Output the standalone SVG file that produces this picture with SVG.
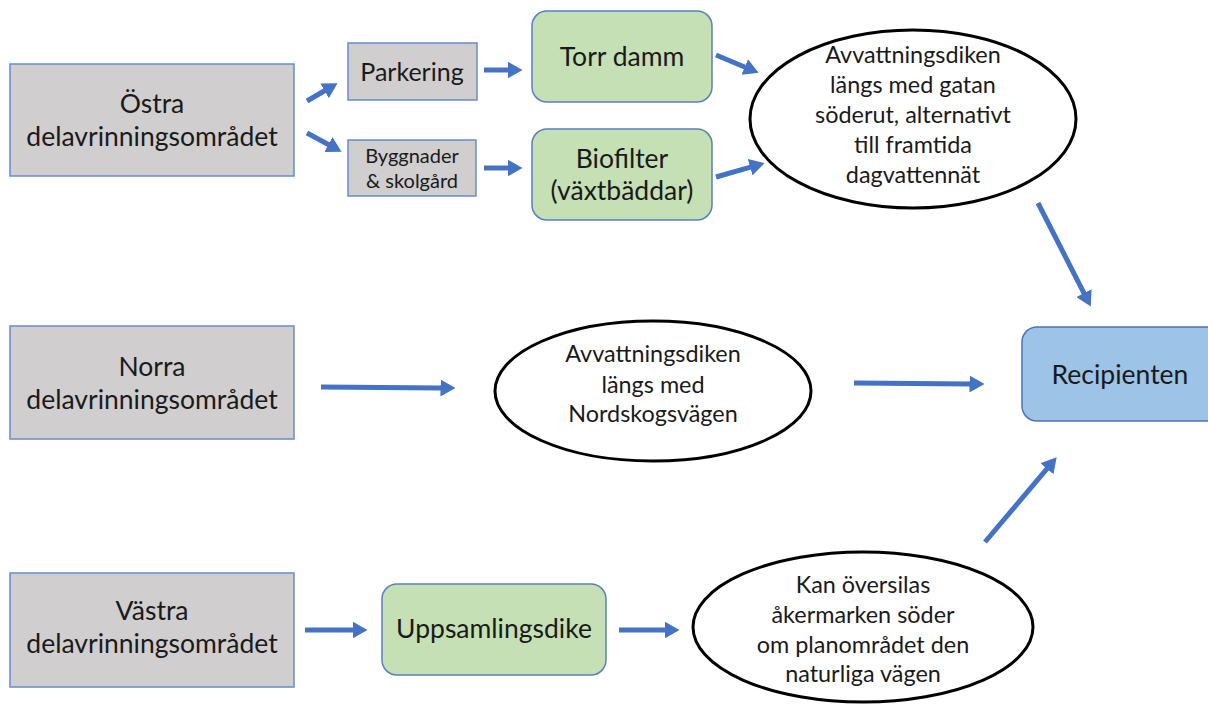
<svg xmlns="http://www.w3.org/2000/svg" width="1208" height="704" viewBox="0 0 1208 704">
<defs>
<marker id="ah" markerUnits="userSpaceOnUse" markerWidth="15" markerHeight="17" viewBox="0 -8.5 15 17" refX="0.5" refY="0" orient="auto">
<path d="M0,-8.5 L15,0 L0,8.5 z" fill="#4472C4"/>
</marker>
<style>
.gray{fill:#D0CECE;stroke:#6A8CC7;stroke-width:1.5}
.green{fill:#C5E0B4;stroke:#5A7FC0;stroke-width:1.5}
.blue{fill:#9DC3E6;stroke:#4E74B8;stroke-width:1.5}
.ell{fill:#FFFFFF;stroke:#000000;stroke-width:3}
.t{font-family:Lato,"Open Sans",sans-serif;fill:#1a1a1a;text-anchor:middle}
.big{font-size:26.5px}
.pk{font-size:25px}
.mid{font-size:23.4px}
.sm{font-size:20px}
.arr{stroke:#4472C4;stroke-width:5;fill:none;marker-end:url(#ah)}
</style>
</defs>
<rect width="1208" height="704" fill="#FFFFFF"/>

<g id="ostra">
<rect class="gray" x="10" y="64" width="284" height="112"/>
<text class="t big" x="152" y="113">Östra</text>
<text class="t big" x="152" y="146">delavrinningsområdet</text>
</g>
<g id="norra">
<rect class="gray" x="10" y="326" width="284" height="113"/>
<text class="t big" x="152" y="376">Norra</text>
<text class="t big" x="152" y="409">delavrinningsområdet</text>
</g>
<g id="vastra">
<rect class="gray" x="10" y="573" width="284" height="114"/>
<text class="t big" x="152" y="620">Västra</text>
<text class="t big" x="152" y="653">delavrinningsområdet</text>
</g>
<g id="parkering">
<rect class="gray" x="348" y="43" width="129" height="57"/>
<text class="t pk" x="412" y="81">Parkering</text>
</g>
<g id="byggnader">
<rect class="gray" x="348" y="140" width="128" height="56"/>
<text class="t sm" x="412" y="163">Byggnader</text>
<text class="t sm" x="412" y="188">&amp; skolgård</text>
</g>
<g id="torrdamm">
<rect class="green" x="532" y="11" width="180" height="91" rx="15"/>
<text class="t big" x="622" y="66">Torr damm</text>
</g>
<g id="biofilter">
<rect class="green" x="532" y="129" width="180" height="91" rx="15"/>
<text class="t big" x="622" y="168">Biofilter</text>
<text class="t big" x="622" y="200">(växtbäddar)</text>
</g>
<g id="dike-gatan">
<ellipse class="ell" cx="913" cy="119" rx="163" ry="89"/>
<text class="t mid" x="913" y="63">Avvattningsdiken</text>
<text class="t mid" x="913" y="93">längs med gatan</text>
<text class="t mid" x="913" y="123">söderut, alternativt</text>
<text class="t mid" x="913" y="153">till framtida</text>
<text class="t mid" x="913" y="183">dagvattennät</text>
</g>
<g id="recipienten">
<rect class="blue" x="1022" y="327" width="200" height="94" rx="15"/>
<text class="t big" x="1120" y="384">Recipienten</text>
</g>
<g id="dike-nordskog">
<ellipse class="ell" cx="653" cy="391" rx="158" ry="70"/>
<text class="t mid" x="653" y="362">Avvattningsdiken</text>
<text class="t mid" x="653" y="393">längs med</text>
<text class="t mid" x="653" y="422">Nordskogsvägen</text>
</g>
<g id="uppsamlingsdike">
<rect class="green" x="382" y="584" width="224" height="91" rx="15"/>
<text class="t big" x="494" y="638">Uppsamlingsdike</text>
</g>
<g id="oversilas">
<ellipse class="ell" cx="863" cy="627" rx="170" ry="75"/>
<text class="t mid" x="863" y="593">Kan översilas</text>
<text class="t mid" x="863" y="623">åkermarken söder</text>
<text class="t mid" x="863" y="653">om planområdet den</text>
<text class="t mid" x="863" y="682">naturliga vägen</text>
</g>

<g id="connectors">
<line class="arr" x1="307" y1="101" x2="325" y2="90.5"/>
<line class="arr" x1="307" y1="133" x2="328.8" y2="144.8"/>
<line class="arr" x1="484" y1="70" x2="508" y2="70"/>
<line class="arr" x1="484" y1="168" x2="508" y2="168"/>
<line class="arr" x1="716" y1="55" x2="745.2" y2="67.2"/>
<line class="arr" x1="716" y1="177" x2="750.6" y2="167.1"/>
<line class="arr" x1="1038" y1="203" x2="1084.2" y2="293.6"/>
<line class="arr" x1="321" y1="387" x2="441" y2="388"/>
<line class="arr" x1="854" y1="383" x2="970" y2="384"/>
<line class="arr" x1="305" y1="630" x2="353" y2="630"/>
<line class="arr" x1="619" y1="630" x2="665" y2="630"/>
<line class="arr" x1="985" y1="542" x2="1047.3" y2="468.4"/>
</g>
</svg>
